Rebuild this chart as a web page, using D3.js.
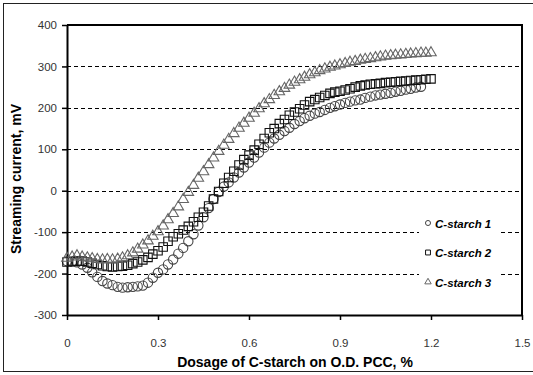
<!DOCTYPE html>
<html>
<head>
<meta charset="utf-8">
<script src="https://cdn.jsdelivr.net/npm/d3@7"></script>
<style>
  body { margin: 0; background: #fff; }
  svg { display: block; }
</style>
</head>
<body>
<svg id="chart" width="533" height="375"></svg>
<script>
// Data
const dosage = [0, 0.017, 0.033, 0.05, 0.067, 0.083, 0.1, 0.117, 0.133, 0.15, 0.167, 0.183, 0.2, 0.217, 0.233, 0.25,
  0.267, 0.283, 0.3, 0.317, 0.333, 0.35, 0.367, 0.383, 0.4, 0.417, 0.433, 0.45, 0.467, 0.483, 0.5, 0.517, 0.533, 0.55,
  0.567, 0.583, 0.6, 0.617, 0.633, 0.65, 0.667, 0.683, 0.7, 0.717, 0.733, 0.75, 0.767, 0.783, 0.8, 0.817, 0.833, 0.85,
  0.867, 0.883, 0.9, 0.917, 0.933, 0.95, 0.967, 0.983, 1.0, 1.017, 1.033, 1.05, 1.067, 1.083, 1.1, 1.117, 1.133, 1.15,
  1.167, 1.183, 1.2];

const starch1 = [-170, -171, -173, -178, -186, -197, -208, -218, -224, -228, -232, -234, -233, -232, -231, -229,
  -222, -210, -198, -190, -178, -166, -152, -138, -122, -105, -84, -64, -42, -20, -3, 10, 20, 32, 44, 56,
  68, 80, 92, 104, 116, 126, 135, 144, 152, 161, 168, 175, 181, 186, 190, 195, 200, 204, 208, 212,
  215, 218, 220, 224, 227, 230, 232, 234, 236, 239, 241, 244, 246, 249, 251];

const starch2 = [-172, -171, -170, -170, -172, -175, -178, -181, -183, -184, -183, -182, -180, -176, -172, -167,
  -161, -153, -145, -136, -122, -111, -104, -95, -86, -75, -64, -52, -37, -20, -2, 18, 32, 47, 62, 75,
  86, 98, 112, 126, 140, 150, 162, 172, 182, 190, 198, 207, 215, 220, 225, 230, 235, 238, 240, 243,
  246, 250, 253, 255, 257, 258, 259, 261, 262, 263, 264, 265, 266, 267, 268, 269, 270];

const starch3 = [-163, -160, -157, -160, -162, -164, -166, -167, -166, -167, -165, -162, -157, -150, -141, -131,
  -121, -110, -99, -85, -70, -55, -39, -21, -4, 13, 30, 46, 63, 79, 95, 110, 124, 138, 151, 163,
  175, 187, 198, 210, 220, 230, 239, 247, 255, 262, 268, 274, 280, 285, 290, 294, 298, 301, 304, 307,
  310, 312, 315, 317, 319, 321, 323, 325, 326, 327, 328, 329, 330, 331, 332, 332, 333];

const seriesNames = ["C-starch 1", "C-starch 2", "C-starch 3"];
const xTicks = [0, 0.3, 0.6, 0.9, 1.2, 1.5];
const yTicks = [-300, -200, -100, 0, 100, 200, 300, 400];
const gridValues = [-200, -100, 0, 100, 200, 300];

const svg = d3.select("#chart");

// outer frame
svg.append("rect")
  .attr("x", 3.5).attr("y", 3.5)
  .attr("width", 540).attr("height", 368)
  .attr("fill", "none").attr("stroke", "#222").attr("stroke-width", 1);

const plotLeft = 67, plotRight = 522, plotTop = 25, plotBottom = 315;

const x = d3.scaleLinear().domain([0, 1.5]).range([plotLeft, plotRight]);
const y = d3.scaleLinear().domain([-300, 400]).range([plotBottom, plotTop]);

// dashed grid
svg.append("g").selectAll("line")
  .data(gridValues)
  .join("line")
  .attr("x1", plotLeft).attr("x2", plotRight)
  .attr("y1", d => Math.round(y(d)) + 0.5).attr("y2", d => Math.round(y(d)) + 0.5)
  .attr("stroke", "#000").attr("stroke-width", 1)
  .attr("stroke-dasharray", "4,3");

// plot box top and right
svg.append("path")
  .attr("d", `M${plotLeft},${plotTop}H${plotRight}V${plotBottom}`)
  .attr("fill", "none").attr("stroke", "#000").attr("stroke-width", 2);

const tickFont = "'Liberation Sans Narrow', 'Arial Narrow', Arial, sans-serif";

// axes
const xAxis = svg.append("g")
  .attr("transform", `translate(0,${plotBottom})`)
  .call(d3.axisBottom(x).tickValues(xTicks).tickFormat(d => d === 0 ? "0" : d.toFixed(1)).tickSizeInner(5).tickSizeOuter(0).tickPadding(19));
xAxis.select(".domain").attr("stroke-width", 2);
xAxis.selectAll(".tick line").attr("stroke-width", 1.5);
xAxis.selectAll("text").attr("font-family", tickFont).attr("font-size", 11.5).attr("fill", "#333");

const yAxis = svg.append("g")
  .attr("transform", `translate(${plotLeft},0)`)
  .call(d3.axisLeft(y).tickValues(yTicks).tickFormat(d => String(d)).tickSizeInner(5).tickSizeOuter(0).tickPadding(5));
yAxis.select(".domain").attr("stroke-width", 2);
yAxis.selectAll(".tick line").attr("stroke-width", 1.5);
yAxis.selectAll("text").attr("font-family", tickFont).attr("font-size", 11.5).attr("fill", "#333");

// markers
const styles = [
  { data: starch1, type: d3.symbolCircle, size: 68, color: "#444" },
  { data: starch2, type: d3.symbolSquare, size: 72, color: "#111" },
  { data: starch3, type: d3.symbolTriangle, size: 48, color: "#666" }
];

styles.forEach(s => {
  const pts = s.data.map((v, i) => [dosage[i], v]);
  svg.append("g").selectAll("path")
    .data(pts)
    .join("path")
    .attr("transform", d => `translate(${x(d[0])},${y(d[1])})`)
    .attr("d", d3.symbol(s.type, s.size))
    .attr("fill", "none")
    .attr("stroke", s.color)
    .attr("stroke-width", 1.1);
});

// legend
const legend = svg.append("g");
legend.append("rect")
  .attr("x", 419).attr("y", 210).attr("width", 82).attr("height", 84)
  .attr("fill", "#fff");
const legendSizes = [20, 24, 18];
seriesNames.forEach((name, i) => {
  const ly = 223 + i * 29.5;
  legend.append("path")
    .attr("transform", `translate(428,${ly})`)
    .attr("d", d3.symbol(styles[i].type, legendSizes[i]))
    .attr("fill", "none").attr("stroke", styles[i].color).attr("stroke-width", 1);
  legend.append("text")
    .attr("x", 435).attr("y", ly + 4.5)
    .attr("font-family", "Arial, 'Liberation Sans', sans-serif")
    .attr("font-size", 11.5).attr("font-weight", "bold").attr("font-style", "italic")
    .text(name);
});

// axis titles
svg.append("text")
  .attr("x", 295).attr("y", 367)
  .attr("text-anchor", "middle")
  .attr("font-family", "Arial, 'Liberation Sans', sans-serif")
  .attr("font-size", 14).attr("font-weight", "bold")
  .text("Dosage of C-starch on O.D. PCC, %");

svg.append("text")
  .attr("transform", `translate(21,179) rotate(-90)`)
  .attr("text-anchor", "middle")
  .attr("font-family", "Arial, 'Liberation Sans', sans-serif")
  .attr("font-size", 14).attr("font-weight", "bold")
  .text("Streaming current, mV");
</script>
</body>
</html>
